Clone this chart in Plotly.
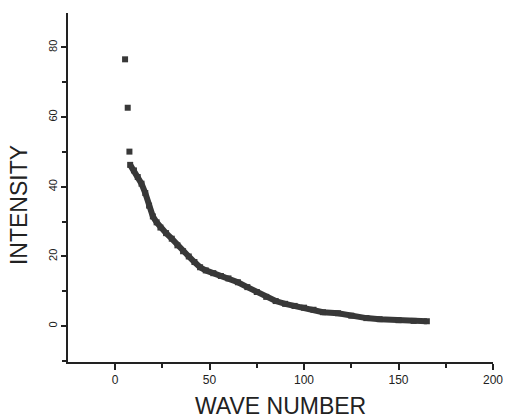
import plotly.graph_objects as go

# Isolated leading points
lead_wave = [5.3, 6.7, 7.6]
lead_intensity = [76.6, 62.7, 50.1]

# Continuous decay curve
wave = [8, 10, 12, 14, 16, 18, 20, 22, 24, 27, 30, 33, 36, 39, 42, 45, 48, 52, 56, 60,
        65, 70, 75, 80, 85, 90, 95, 100, 105, 110, 118, 125, 133, 140, 150, 158, 165]
intensity = [46.3, 44.7, 42.8, 40.9, 38.2, 34.6, 31.5, 29.8, 28.3, 26.7, 25.1, 23.2, 21.5,
             20.0, 18.4, 16.9, 16.0, 15.2, 14.4, 13.7, 12.6, 11.2, 9.8, 8.4, 7.2, 6.4, 5.8,
             5.3, 4.7, 4.0, 3.7, 3.0, 2.3, 2.0, 1.7, 1.5, 1.4]

x_ticks = [0, 50, 100, 150, 200]
x_ticklabels = ["0", "50", "100", "150", "200"]
y_ticks = [0, 20, 40, 60, 80]
y_ticklabels = ["0", "20", "40", "60", "80"]

color = "#383838"
axis_color = "#222"
font_family = "Liberation Sans, Arial, sans-serif"

fig = go.Figure()
fig.add_trace(go.Scatter(x=lead_wave, y=lead_intensity, mode="markers",
                         marker=dict(symbol="square", size=6, color=color),
                         showlegend=False))
fig.add_trace(go.Scatter(x=wave, y=intensity, mode="lines+markers",
                         line=dict(color=color, width=6),
                         marker=dict(symbol="square", size=6, color=color),
                         showlegend=False))

fig.update_layout(
    width=505, height=419,
    margin=dict(l=68, r=12, t=13, b=57),
    paper_bgcolor="white", plot_bgcolor="white",
    font=dict(family=font_family, color=axis_color),
    xaxis=dict(
        range=[-24.9, 200], showgrid=False, zeroline=False, automargin=False,
        showline=True, linecolor=axis_color, linewidth=2,
        tickmode="array", tickvals=x_ticks, ticktext=x_ticklabels,
        ticks="outside", ticklen=6, tickwidth=1.5, tickcolor=axis_color,
        tickfont=dict(size=12), ticklabeloverflow="allow",
        minor=dict(ticks="outside", ticklen=4, dtick=25, tick0=0, tickcolor=axis_color),
    ),
    yaxis=dict(
        range=[-10.3, 89.9], showgrid=False, zeroline=False, automargin=False,
        showline=True, linecolor=axis_color, linewidth=2,
        tickmode="array", tickvals=y_ticks, ticktext=y_ticklabels,
        ticks="outside", ticklen=5, tickwidth=1.5, tickcolor=axis_color,
        tickfont=dict(size=11), tickangle=-90,
        minor=dict(ticks="outside", ticklen=4, dtick=10, tick0=0, tickcolor=axis_color),
    ),
    annotations=[
        dict(text="WAVE NUMBER", xref="paper", yref="paper", x=0.5, y=-0.126,
             xanchor="center", yanchor="middle", showarrow=False,
             font=dict(size=23, color=axis_color)),
        dict(text="INTENSITY", xref="paper", yref="paper", x=-0.115, y=0.45,
             xanchor="center", yanchor="middle", showarrow=False, textangle=-90,
             font=dict(size=23, color=axis_color)),
    ],
)

fig.write_html("out.html", config={"displayModeBar": False},
               post_script="document.body.style.margin='0';document.body.style.overflow='hidden';")
